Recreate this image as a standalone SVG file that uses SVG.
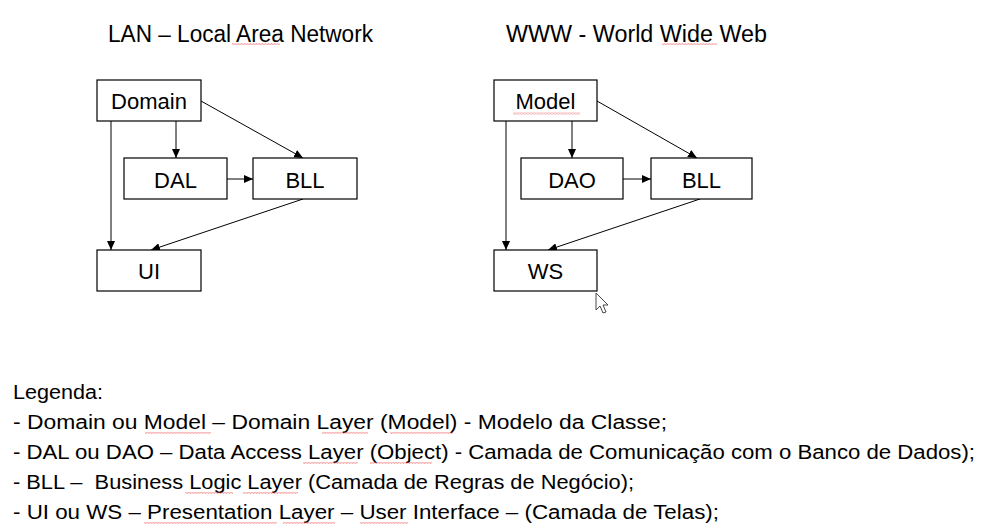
<svg xmlns="http://www.w3.org/2000/svg" width="986" height="530" viewBox="0 0 986 530">
<style>
  text { font-family: "Liberation Sans", Arial, sans-serif; fill: #000; }
  .title { font-size: 23px; }
  .lbl { font-size: 22px; text-anchor: middle; }
  .leg { font-size: 20px; }
  .box { fill: #fff; stroke: #000; stroke-width: 1.2; }
  .edge { stroke: #000; stroke-width: 1; fill: none; marker-end: url(#ah); }
  .sq { fill: url(#squig); }
</style>
<defs>
  <marker id="ah" markerUnits="userSpaceOnUse" markerWidth="9" markerHeight="8" refX="9" refY="4" orient="auto">
    <path d="M0,0 L9,4 L0,8 z" fill="#000"/>
  </marker>
  <pattern id="squig" patternUnits="userSpaceOnUse" width="3" height="2">
    <path d="M0,1.6 L0.75,0.4 L1.5,1.6 L2.25,0.4 L3,1.6" fill="none" stroke="#e85050" stroke-width="0.5"/>
  </pattern>
</defs>
<rect width="986" height="530" fill="#fff"/>

<g id="titles">
  <text class="title" x="108" y="42" textLength="265" lengthAdjust="spacingAndGlyphs">LAN – Local Area Network</text>
  <text class="title" x="506" y="42" textLength="261" lengthAdjust="spacingAndGlyphs">WWW - World Wide Web</text>
</g>

<g id="connectors">
  <line class="edge" x1="176" y1="121" x2="176" y2="158"/>
  <line class="edge" x1="111" y1="121" x2="111" y2="250"/>
  <line class="edge" x1="201" y1="101" x2="303" y2="158"/>
  <line class="edge" x1="227" y1="179" x2="253" y2="179"/>
  <line class="edge" x1="303" y1="199" x2="151" y2="250"/>
  <line class="edge" x1="572" y1="121" x2="572" y2="158"/>
  <line class="edge" x1="506" y1="121" x2="506" y2="250"/>
  <line class="edge" x1="597" y1="101" x2="697" y2="158"/>
  <line class="edge" x1="623" y1="179" x2="651" y2="179"/>
  <line class="edge" x1="700" y1="199" x2="548" y2="250"/>
</g>

<g id="lan-domain"><rect class="box" x="97" y="80" width="104" height="41"/><text class="lbl" x="149" y="109">Domain</text></g>
<g id="lan-dal"><rect class="box" x="124" y="158" width="103" height="41"/><text class="lbl" x="175.5" y="187.5">DAL</text></g>
<g id="lan-bll"><rect class="box" x="253" y="158" width="104" height="41"/><text class="lbl" x="305" y="187.5">BLL</text></g>
<g id="lan-ui"><rect class="box" x="97" y="250" width="104" height="41"/><text class="lbl" x="149" y="279">UI</text></g>

<g id="www-model"><rect class="box" x="494" y="80" width="103" height="41"/><text class="lbl" x="545.5" y="109">Model</text></g>
<g id="www-dao"><rect class="box" x="521" y="158" width="102" height="41"/><text class="lbl" x="572" y="187.5">DAO</text></g>
<g id="www-bll"><rect class="box" x="651" y="158" width="101" height="41"/><text class="lbl" x="701.5" y="187.5">BLL</text></g>
<g id="www-ws"><rect class="box" x="494" y="250" width="103" height="41"/><text class="lbl" x="545.5" y="279">WS</text></g>

<g id="legend">
  <text class="leg" x="13" y="399" textLength="90" lengthAdjust="spacingAndGlyphs">Legenda:</text>
  <text class="leg" x="13" y="429" textLength="654" lengthAdjust="spacingAndGlyphs">- Domain ou Model – Domain Layer (Model) - Modelo da Classe;</text>
  <text class="leg" x="13" y="459" textLength="962" lengthAdjust="spacingAndGlyphs">- DAL ou DAO – Data Access Layer (Object) - Camada de Comunicação com o Banco de Dados);</text>
  <text class="leg" x="13" y="489" textLength="621" lengthAdjust="spacingAndGlyphs" xml:space="preserve">- BLL –  Business Logic Layer (Camada de Regras de Negócio);</text>
  <text class="leg" x="13" y="519" textLength="706" lengthAdjust="spacingAndGlyphs">- UI ou WS – Presentation Layer – User Interface – (Camada de Telas);</text>
</g>

<g id="spellcheck">
  <rect class="sq" x="232" y="43" width="48" height="2"/>
  <rect class="sq" x="662" y="43" width="55" height="2"/>
  <rect class="sq" x="513" y="112.5" width="67" height="2"/>
  <rect class="sq" x="145" y="432" width="66" height="2"/>
  <rect class="sq" x="322" y="432" width="46" height="2"/>
  <rect class="sq" x="390" y="432" width="63" height="2"/>
  <rect class="sq" x="303" y="462" width="55" height="2"/>
  <rect class="sq" x="370" y="462" width="62" height="2"/>
  <rect class="sq" x="185" y="492" width="48" height="2"/>
  <rect class="sq" x="243" y="492" width="55" height="2"/>
  <rect class="sq" x="144" y="522" width="133" height="2"/>
  <rect class="sq" x="283" y="522" width="52" height="2"/>
  <rect class="sq" x="360" y="522" width="48" height="2"/>
</g>

<g id="cursor">
  <polygon points="596,293 596,310 600,306 603,313 606,312 603,305 608,305" fill="#fff" stroke="#333" stroke-width="0.9" stroke-linejoin="round"/>
</g>
</svg>
